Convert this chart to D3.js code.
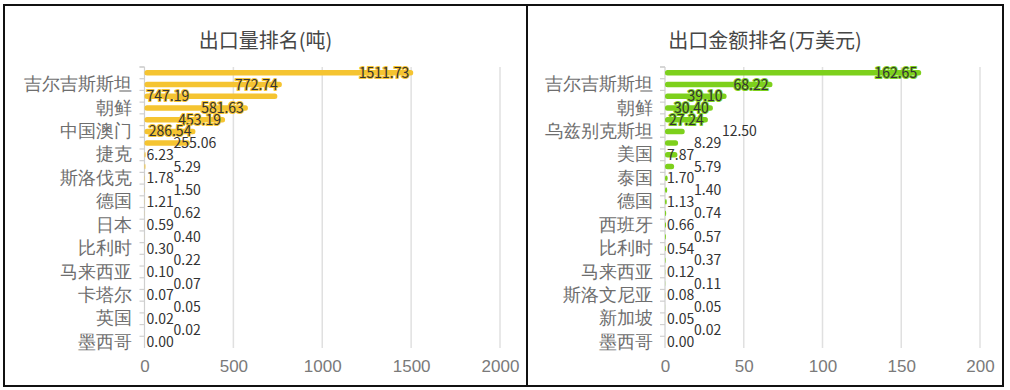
<!DOCTYPE html>
<html lang="zh">
<head>
    <meta charset="UTF-8">
    <title>出口排名</title>
    <script src="https://d3js.org/d3.v7.min.js"></script>
    <style>
        body { margin: 0; background: #fff; font-family: "Microsoft YaHei", "Noto Sans CJK SC", sans-serif; }
        svg { display: block; }
        .frame { fill: none; stroke: #111; stroke-width: 2; }
        .title { font-size: 20px; fill: #464646; }
        .cat text { font-size: 17.5px; fill: #6e6e6e; }
        .xax text { font-size: 17px; fill: #7a7a7a; }
        .grid { stroke: #e0e0e0; stroke-width: 1.5; }
        .axisline { stroke: #cfcfcf; stroke-width: 1.2; }
        .vlabel { font-size: 14px; fill: #333; }
    </style>
</head>
<body>
<svg id="chart" width="1010" height="390"></svg>
<script>
    // 排名从高到低（最上面一项的国家名在图中未显示）
    const volNames = ["", "吉尔吉斯斯坦", "", "朝鲜", "", "中国澳门", "", "捷克", "", "斯洛伐克", "", "德国",
                      "", "日本", "", "比利时", "", "马来西亚", "", "卡塔尔", "", "英国", "", "墨西哥"];
    const volValues = [1511.73, 772.74, 747.19, 581.63, 453.19, 286.54, 255.06, 6.23, 5.29, 1.78, 1.50, 1.21,
                       0.62, 0.59, 0.40, 0.30, 0.22, 0.10, 0.07, 0.07, 0.05, 0.02, 0.02, 0.00];
    const volTicks = [0, 500, 1000, 1500, 2000];

    const amtNames = ["", "吉尔吉斯斯坦", "", "朝鲜", "", "乌兹别克斯坦", "", "美国", "", "泰国", "", "德国",
                      "", "西班牙", "", "比利时", "", "马来西亚", "", "斯洛文尼亚", "", "新加坡", "", "墨西哥"];
    const amtValues = [162.65, 68.22, 39.10, 30.40, 27.24, 12.50, 8.29, 7.87, 5.79, 1.70, 1.40, 1.13,
                       0.74, 0.66, 0.57, 0.54, 0.37, 0.12, 0.11, 0.08, 0.05, 0.05, 0.02, 0.00];
    const amtTicks = [0, 50, 100, 150, 200];

    const svg = d3.select("#chart");

    function drawPanel(p) {
        const g = svg.append("g");
        g.append("rect").attr("class", "frame")
            .attr("x", p.left).attr("y", 5).attr("width", p.right - p.left).attr("height", 381);
        g.append("text").attr("class", "title")
            .attr("x", (p.left + p.right) / 2).attr("y", 48)
            .attr("text-anchor", "middle").text(p.title);

        const n = p.values.length;
        // 底部为索引 0
        const rev = p.values.slice().reverse();
        const names = p.names.slice().reverse();
        const top = 67, bottom = 348;
        const x = d3.scaleLinear().domain([0, p.ticks[p.ticks.length - 1]]).range([p.x0, p.x1]);
        const y = d3.scaleBand().domain(d3.range(n)).range([bottom, top]);

        g.selectAll(".grid").data(p.ticks.slice(1)).join("line").attr("class", "grid")
            .attr("x1", d => x(d)).attr("x2", d => x(d)).attr("y1", top).attr("y2", bottom);

        const xa = g.append("g").attr("class", "xax").attr("transform", `translate(0,${bottom})`)
            .call(d3.axisBottom(x).tickValues(p.ticks).tickFormat(d3.format("d")).tickSize(0).tickPadding(12));
        xa.select(".domain").remove();

        const ya = g.append("g").attr("class", "cat").attr("transform", `translate(${x(0)},0)`)
            .call(d3.axisLeft(y).tickSize(0).tickPadding(12.5).tickFormat(i => i % 2 === 0 ? names[i] : ""));
        ya.select(".domain").remove();

        // 轴线与类目边界刻度
        g.append("line").attr("class", "axisline")
            .attr("x1", x(0)).attr("x2", x(0)).attr("y1", top).attr("y2", bottom);
        const bounds = d3.range(n).map(i => y(i)).concat([top]);
        g.selectAll(".btick").data(bounds).join("line").attr("class", "axisline")
            .attr("x1", x(0) - 5).attr("x2", x(0)).attr("y1", d => d).attr("y2", d => d);

        const bh = 5.5;
        g.selectAll(".bar").data(rev).join("rect")
            .attr("x", x(0)).attr("y", (d, i) => y(i) + y.bandwidth() / 2 - bh / 2)
            .attr("width", d => Math.max(0, x(d) - x(0))).attr("height", bh)
            .attr("rx", 2.5).attr("fill", p.color);

        // 数值标签：默认在柱内右侧，短柱靠轴排列并交错避让
        const minX = x(0) + 2;
        const overlap = (a, w, b) => Math.min(a + w, b.x + b.w) - Math.max(a, b.x);
        let prev = null;
        for (let i = n - 1; i >= 0; i--) {
            const v = rev[i];
            const t = g.append("text").attr("class", "vlabel")
                .attr("y", y(i) + y.bandwidth() / 2).attr("dy", "0.36em")
                .text(v.toFixed(2));
            const w = t.node().getComputedTextLength();
            let lx = x(v) - 4 - w;
            let clamped = false;
            if (lx < minX) { lx = minX; clamped = true; }
            if (clamped && i % 2 === 1) {
                lx += 27;
            } else if (clamped && prev && overlap(lx, w, prev) / w > 0.8) {
                lx = prev.x + prev.w + 18;
            } else if (prev && overlap(lx, w, prev) / w > 0.8 && overlap(minX, w, prev) <= 0) {
                lx = minX;
            }
            t.attr("x", lx);
            if (!clamped && lx < x(v)) {
                t.attr("stroke", p.color).attr("stroke-width", 2)
                    .attr("paint-order", "stroke").attr("stroke-linejoin", "round");
            }
            prev = { x: lx, w: w };
        }
    }

    drawPanel({ left: 4, right: 527, x0: 144.5, x1: 500, title: "出口量排名(吨)",
                names: volNames, values: volValues, ticks: volTicks, color: "#f5c431" });
    drawPanel({ left: 527, right: 1003, x0: 665, x1: 980, title: "出口金额排名(万美元)",
                names: amtNames, values: amtValues, ticks: amtTicks, color: "#7dd01c" });
</script>
</body>
</html>
